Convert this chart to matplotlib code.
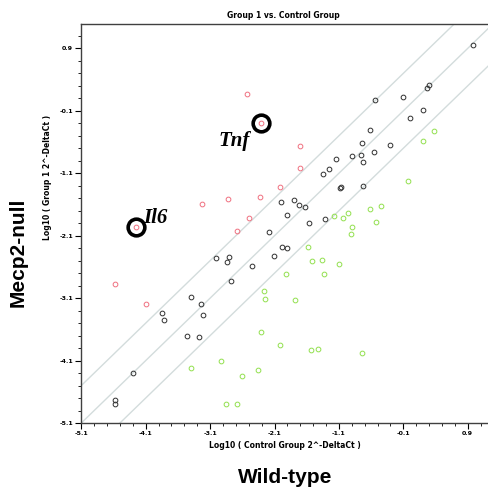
import numpy as np
import matplotlib
matplotlib.use('Agg')
import matplotlib.pyplot as plt

# log10 2^-DeltaCt values (x = control, y = group 1)
up_x = [-2.53, -2.31, -1.71, -1.71, -2.02, -2.32, -2.82, -3.23, -2.49, -4.25, -2.68, -4.57, -4.09]
up_y = [0.17, -0.29, -0.66, -1.02, -1.32, -1.48, -1.52, -1.59, -1.82, -1.96, -2.02, -2.88, -3.19]

same_x = [0.98, 0.30, 0.26, -0.54, -0.11, 0.21, 0.01, -0.62, -0.74, -0.30, -0.55, -0.76,
          -0.89, -1.14, -0.72, -1.26, -1.35, -1.07, -1.09, -0.72, -2.00, -1.80, -1.72,
          -1.62, -1.90, -1.31, -1.57, -2.18, -1.98, -1.91, -2.11, -3.01, -2.80, -2.84,
          -2.45, -2.78, -3.40, -3.24, -3.84, -3.82, -3.21, -3.46, -3.27, -4.30, -4.57, -4.57]
same_y = [0.95, 0.31, 0.26, 0.07, 0.12, -0.08, -0.21, -0.41, -0.62, -0.64, -0.76, -0.81,
          -0.83, -0.87, -0.92, -1.03, -1.12, -1.32, -1.34, -1.30, -1.56, -1.53, -1.61,
          -1.64, -1.77, -1.83, -1.90, -2.04, -2.28, -2.30, -2.42, -2.46, -2.44, -2.52,
          -2.58, -2.83, -3.08, -3.19, -3.34, -3.45, -3.37, -3.70, -3.72, -4.30, -4.73, -4.79]

down_x = [0.37, 0.21, -0.02, -0.44, -0.62, -0.96, -1.17, -1.04, -0.53, -0.89, -0.92,
          -1.58, -1.52, -1.36, -1.10, -1.92, -1.33, -2.26, -2.25, -1.78, -2.31, -2.02,
          -1.54, -1.42, -0.74, -2.93, -3.40, -2.61, -2.36, -2.86, -2.68]
down_y = [-0.43, -0.59, -1.23, -1.63, -1.68, -1.74, -1.78, -1.82, -1.88, -1.96, -2.07,
          -2.28, -2.50, -2.49, -2.56, -2.71, -2.71, -2.98, -3.12, -3.13, -3.64, -3.85,
          -3.93, -3.91, -3.98, -4.10, -4.22, -4.34, -4.25, -4.80, -4.80]

ticks = [-5.1, -4.1, -3.1, -2.1, -1.1, -0.1, 0.9]
fold_offset = 0.6  # boundary lines at y = x +/- 0.6

fig = plt.figure(figsize=(4.89, 5.01), dpi=100)
ax = fig.add_axes([0.1663, 0.1557, 0.8337, 0.7964])
ax.set_xlim(-5.1, 1.23)
ax.set_ylim(-5.1, 1.29)

line_x = np.array([-6.0, 2.0])
for off in (-fold_offset, 0, fold_offset):
    ax.plot(line_x, line_x + off, color='#d3dcdc', lw=1.0, zorder=1)

mk = dict(marker='o', ls='none', ms=3.4, mfc='none', mew=0.7, zorder=3)
ax.plot(same_x, same_y, mec='#303030', **mk)
ax.plot(up_x, up_y, mec='#f07080', **mk)
ax.plot(down_x, down_y, mec='#92e04e', **mk)

# highlighted genes
ax.plot([up_x[1], up_x[9]], [up_y[1], up_y[9]], marker='o', ls='none', ms=12,
        mfc='none', mec='black', mew=2.6, zorder=4)
ax.text(-2.73, -0.59, 'Tnf', fontsize=15, family='Liberation Serif',
        style='italic', fontweight='bold', ha='center', va='center')
ax.text(-3.95, -1.82, 'Il6', fontsize=15, family='Liberation Serif',
        style='italic', fontweight='bold', ha='center', va='center')

ax.set_xticks(ticks)
ax.set_yticks(ticks)
ax.set_xticklabels([str(t) for t in ticks])
ax.set_yticklabels([str(t) for t in ticks])
ax.set_xticks(np.arange(-5.1, 1.25, 0.2), minor=True)
ax.set_yticks(np.arange(-5.1, 1.3, 0.2), minor=True)
ax.tick_params(which='major', length=4, width=0.8, labelsize=4.5, pad=2, direction='out')
ax.tick_params(which='minor', length=2, width=0.6, direction='out')
for lab in ax.get_xticklabels() + ax.get_yticklabels():
    lab.set_fontweight('bold')
ax.spines['right'].set_visible(False)
for s in ('left', 'top', 'bottom'):
    ax.spines[s].set_linewidth(1.0)
    ax.spines[s].set_color('#404040')

fig.text(0.579, 0.970, 'Group 1 vs. Control Group', fontsize=5.5, fontweight='bold',
         ha='center', va='center')
fig.text(0.583, 0.111, 'Log10 ( Control Group 2^-DeltaCt )', fontsize=5.5,
         fontweight='bold', ha='center', va='center')
fig.text(0.098, 0.645, 'Log10 ( Group 1 2^-DeltaCt )', fontsize=5.5,
         fontweight='bold', ha='center', va='center', rotation=90)

fig.text(0.583, 0.046, 'Wild-type', fontsize=15, fontweight='bold',
         family='Liberation Sans', ha='center', va='center')
fig.text(0.037, 0.497, 'Mecp2-null', fontsize=15, fontweight='bold',
         family='Liberation Sans', ha='center', va='center', rotation=90)

fig.savefig('out.png', dpi=100)
